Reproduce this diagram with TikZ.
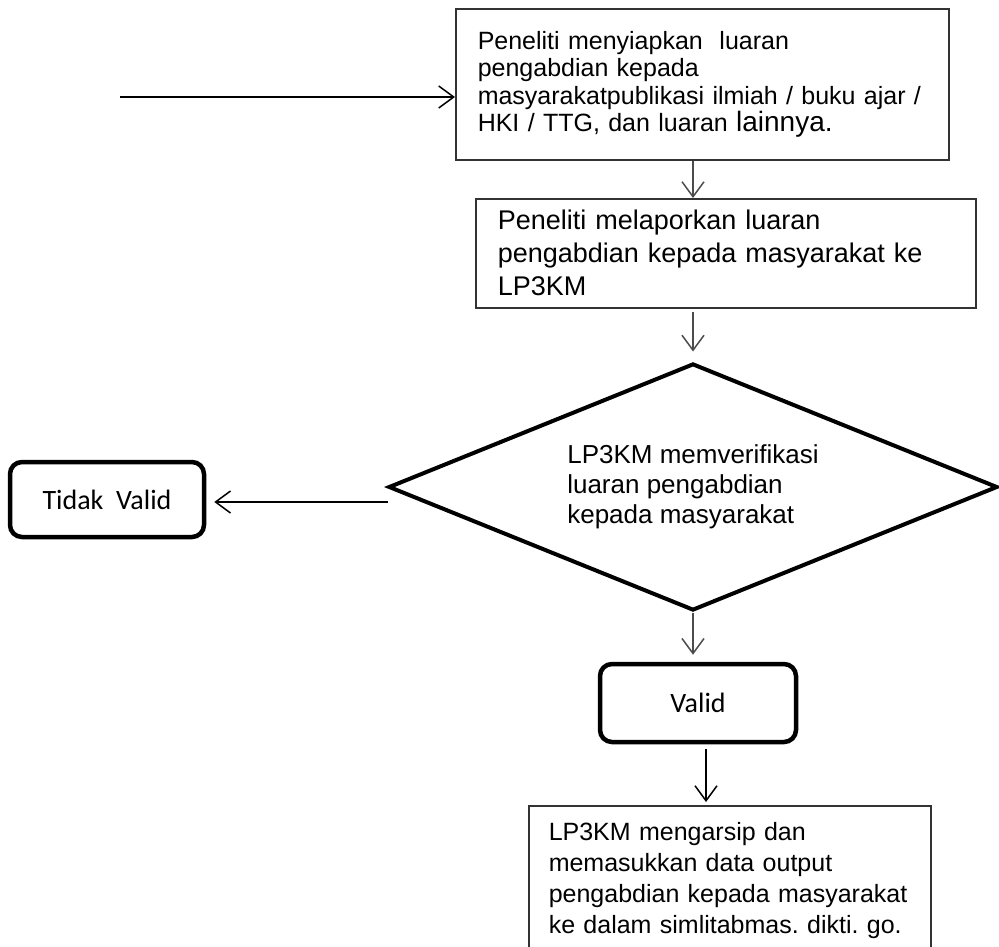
\documentclass[tikz,border=0pt]{standalone}
\usepackage{fontspec}
\setmainfont{Liberation Sans}
\newfontfamily\calibri{Carlito}
\usetikzlibrary{shapes,arrows.meta,calc}
\tikzset{>={Straight Barb[length=15pt,width=22pt]}}
\tikzset{
  kotak/.style={draw=black!80,line width=1.5pt,anchor=north west,align=left,inner ysep=0pt},
  keputusan/.style={diamond,draw=black,line width=4pt,aspect=2.5,inner sep=0pt,align=left,
    minimum width=609pt,minimum height=247pt,font=\fontsize{26}{30}\selectfont},
  hasil/.style={draw=black,line width=4.5pt,rounded corners=12pt,font=\calibri\fontsize{28}{32}\selectfont},
  panah/.style={->,draw=black!70,line width=1.5pt}
}
\frenchspacing

\begin{document}
\begin{tikzpicture}[x=1pt,y=-1pt]
  \clip (0,0) rectangle (999,946);

  \node[kotak,minimum width=493pt,minimum height=151pt,inner xsep=22pt,text width=449pt,
    font=\fontsize{25}{27.5}\selectfont] (k1) at (455,8)
    {Peneliti menyiapkan\ \ luaran\\ pengabdian kepada\\ masyarakatpublikasi ilmiah / buku ajar /\\ HKI / TTG, dan luaran {\fontsize{28}{27.5}\selectfont lainnya.}};
  \node[kotak,minimum width=500pt,minimum height=109pt,inner xsep=22pt,text width=456pt,
    font=\fontsize{27}{33}\selectfont] (k2) at (475,198)
    {Peneliti melaporkan luaran\\ pengabdian kepada masyarakat ke\\ LP3KM};
  \node[keputusan] (cek) at (693,487)
    {LP3KM memverifikasi\\ luaran pengabdian\\ kepada masyarakat};
  \node[hasil,minimum width=194pt,minimum height=75pt] (tdk) at (107,499.5) {Tidak\ \ Valid};
  \node[hasil,minimum width=196pt,minimum height=78pt] (valid) at (698,703) {Valid};
  \node[kotak,minimum width=402pt,minimum height=149pt,inner xsep=20pt,text width=362pt,
    font=\fontsize{25}{31}\selectfont] (k4) at (528,805)
    {LP3KM mengarsip dan\\ memasukkan data output\\ pengabdian kepada masyarakat\\ ke dalam simlitabmas. dikti. go.};

  % alur masuk
  \coordinate (masuk) at (120,97);
  \draw[panah,draw=black] (masuk) -- (masuk -| k1.west);

  \draw[panah] (cek.north |- k1.south) -- (cek.north |- k2.north);
  \draw[panah,shorten <=3pt,shorten >=10pt] (cek.north |- k2.south) -- (cek.north);
  \draw[panah,shorten >=7pt] (cek.south) -- (cek.south |- valid.north);
  \draw[panah,draw=black,shorten <=5pt,shorten >=3pt] ([xshift=8pt]valid.south) -- ([xshift=8pt]valid.south |- k4.north);

  % tidak valid
  \coordinate (kiri) at (388,502);
  \draw[panah,draw=black,shorten >=8pt] (kiri) -- (kiri -| tdk.east);
\end{tikzpicture}
\end{document}
